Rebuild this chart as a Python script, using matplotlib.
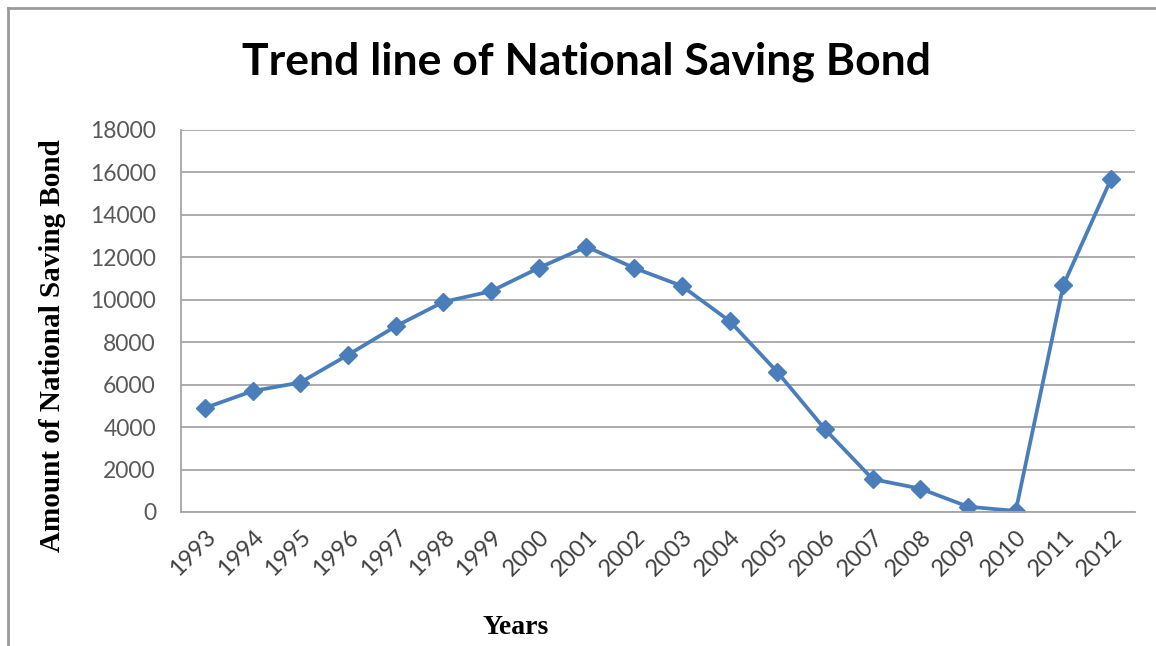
import matplotlib.pyplot as plt
from matplotlib.lines import Line2D

# national saving bond, yearly amounts
years = ['1993', '1994', '1995', '1996', '1997', '1998', '1999', '2000', '2001', '2002',
         '2003', '2004', '2005', '2006', '2007', '2008', '2009', '2010', '2011', '2012']
amounts = [4900, 5700, 6100, 7400, 8750, 9900, 10400, 11500, 12500, 11500,
           10650, 9000, 6600, 3900, 1550, 1100, 250, 50, 10700, 15700]
yticks = [0, 2000, 4000, 6000, 8000, 10000, 12000, 14000, 16000, 18000]

fig = plt.figure(figsize=(11.56, 6.46), dpi=100)
ax = fig.add_axes([181/1156, 1 - 512/646, 954/1156, 382/646])

x = list(range(len(years)))
ax.plot(x, amounts, color='#4a7ebb', linewidth=2.7, marker='D', markersize=9.5,
        markerfacecolor='#4a7ebb', markeredgecolor='#4a7ebb')

ax.set_xlim(-0.5, len(years) - 0.5)
ax.set_ylim(0, 18000)
ax.set_yticks(yticks)
ax.set_yticklabels([str(v) for v in yticks], family='Lato', fontsize=16.5, color='#595959')
ax.set_xticks(x)
ax.set_xticklabels(years, family='Lato', fontsize=17, color='#404040',
                   rotation=45, ha='right', va='top', rotation_mode='anchor')
ax.tick_params(axis='y', length=0, pad=18)
ax.tick_params(axis='x', length=0, pad=10)

ax.grid(axis='y', color='#a6a6a6', linewidth=1.3)
ax.set_axisbelow(True)
for side in ['top', 'right']:
    ax.spines[side].set_visible(False)
ax.spines['left'].set_color('#a6a6a6')
ax.spines['bottom'].set_color('#a6a6a6')
ax.spines['left'].set_linewidth(1.3)
ax.spines['bottom'].set_linewidth(1.3)

fig.text(587/1156, 1 - 62/646, 'Trend line of National Saving Bond', family='Lato',
         fontweight='bold', fontsize=32, ha='center', va='center', color='black')
fig.text(53/1156, 1 - 346/646, 'Amount of National Saving Bond', family='Liberation Serif',
         fontweight='bold', fontsize=21, rotation=90, ha='center', va='center')
fig.text(516/1156, 1 - 627/646, 'Years', family='Liberation Serif',
         fontweight='bold', fontsize=20, ha='center', va='center')

# outer frame
fig.add_artist(Line2D([8/1156, 8/1156], [0, 1 - 8/646], transform=fig.transFigure,
                      color='#9a9a9a', linewidth=2))
fig.add_artist(Line2D([8/1156, 1], [1 - 8/646, 1 - 8/646], transform=fig.transFigure,
                      color='#9a9a9a', linewidth=2))

fig.savefig('out.png', dpi=100)
